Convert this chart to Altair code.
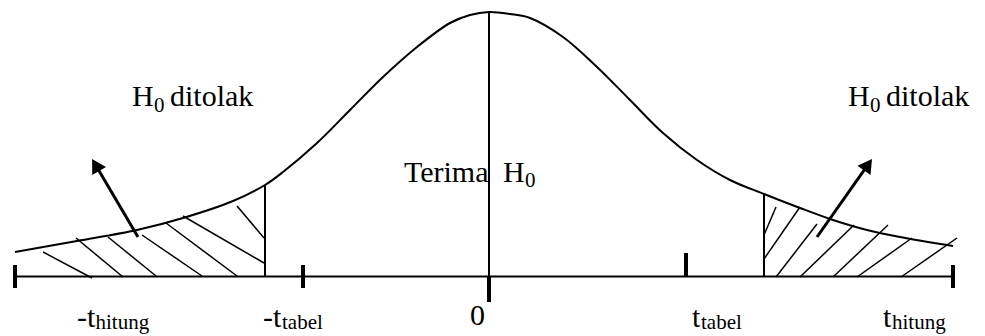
import altair as alt
import pandas as pd

# ---- curve (x in t-units, y = density height) ----
curve_x = [-4.74, -4.12, -3.52, -3.06, -2.56, -2.24, -2.06, -1.72, -1.39, -1.06,
           -0.72, -0.39, -0.19, 0.0, 0.21, 0.41, 0.74, 1.08, 1.41, 1.74,
           2.08, 2.41, 2.75, 3.11, 3.44, 3.78, 4.11, 4.64]
curve_y = [0.245, 0.355, 0.465, 0.585, 0.755, 0.915, 1.045, 1.335, 1.665, 1.995,
           2.295, 2.535, 2.615, 2.645, 2.625, 2.585, 2.395, 2.095, 1.765, 1.435,
           1.165, 0.965, 0.825, 0.685, 0.565, 0.465, 0.395, 0.305]

# critical values on the axis
t_hitung_left = -4.74
t_tabel_left = -1.86
t_zero = 0.0
t_tabel_right = 1.97
t_hitung_right = 4.64

# boundaries of the shaded regions
bound_x = [-2.24, 0.0, 2.75]
bound_top = [0.915, 2.645, 0.825]

# hatch segments (x, y, x2, y2)
hatch_x = [-4.46, -4.13, -3.81, -3.47, -3.23, -3.06, -2.52,
           2.75, 2.75, 2.87, 3.11, 3.44, 3.68, 4.12]
hatch_y = [0.245, 0.385, 0.395, 0.415, 0.535, 0.605, 0.705,
           0.415, 0.175, -0.005, -0.005, -0.005, -0.005, -0.005]
hatch_x2 = [-3.97, -3.66, -3.33, -2.87, -2.52, -2.25, -2.25,
            2.87, 3.11, 3.28, 3.65, 3.99, 4.23, 4.68]
hatch_y2 = [-0.015, -0.005, 0.005, 0.005, 0.005, 0.135, 0.385,
            0.695, 0.695, 0.525, 0.515, 0.515, 0.385, 0.385]

# arrows: shaft start, head centre, head angle
arrow_x = [-3.51, 3.28]
arrow_y = [0.395, 0.395]
arrow_hx = [-3.934, 3.79]
arrow_hy = [1.115, 1.118]
arrow_angle = [329.5, 35.2]

# ticks on the axis (x, y, y2)
tick_x = [t_hitung_left, t_tabel_left, t_zero, t_tabel_right, t_hitung_right]
tick_y = [0.115, 0.115, 0.0, 0.235, 0.115]
tick_y2 = [-0.115, -0.115, -0.255, 0.0, -0.115]

# texts: main (large) and subscript (small)
main_text = ["H", "ditolak", "H", "ditolak", "Terima", "H", "0", "-t", "-t", "t", "t"]
main_x = [-3.57, -3.19, 3.59, 3.97, -0.85, 0.14, -0.19, -4.12, -2.26, 2.03, 3.94]
main_y = [1.705, 1.705, 1.705, 1.705, 0.945, 0.945, -0.485, -0.505, -0.505, -0.505, -0.505]
sub_text = ["0", "0", "0", "hitung", "tabel", "tabel", "hitung"]
sub_x = [-3.35, 3.81, 0.36, -3.935, -2.07, 2.12, 4.03]
sub_y = [1.645, 1.645, 0.895, -0.525, -0.525, -0.525, -0.525]

xs = alt.Scale(domain=[-4.81, 4.88], nice=False, zero=False)
ys = alt.Scale(domain=[-0.595, 2.685], nice=False, zero=False)

def X(f="x"):
    return alt.X(f, type="quantitative", scale=xs, axis=None)

def Y(f="y"):
    return alt.Y(f, type="quantitative", scale=ys, axis=None)

curve = alt.Chart(pd.DataFrame({"x": curve_x, "y": curve_y})).mark_line(
    color="black", strokeWidth=2, interpolate="catmull-rom"
).encode(x=X(), y=Y())

axis_df = pd.DataFrame({"x": [t_hitung_left], "x2": [t_hitung_right], "y": [0.0]})
axis_line = alt.Chart(axis_df).mark_rule(color="black", strokeWidth=2).encode(
    x=X(), x2="x2", y=Y()
)

bound_df = pd.DataFrame({"x": bound_x, "y": [0.0] * 3, "y2": bound_top})
bounds = alt.Chart(bound_df).mark_rule(color="black", strokeWidth=2).encode(
    x=X(), y=Y(), y2="y2"
)

hatch_df = pd.DataFrame({"x": hatch_x, "y": hatch_y, "x2": hatch_x2, "y2": hatch_y2})
hatch = alt.Chart(hatch_df).mark_rule(color="black", strokeWidth=1.5).encode(
    x=X(), y=Y(), x2="x2", y2="y2"
)

arrow_df = pd.DataFrame({"x": arrow_x, "y": arrow_y, "x2": arrow_hx, "y2": arrow_hy,
                         "angle": arrow_angle})
shafts = alt.Chart(arrow_df).mark_rule(color="black", strokeWidth=3).encode(
    x=X(), y=Y(), x2="x2", y2="y2"
)
heads = alt.Chart(arrow_df).mark_point(
    shape="triangle-up", filled=True, color="black", opacity=1, size=256
).encode(x=X("x2"), y=Y("y2"), angle=alt.Angle("angle:Q", scale=None))

tick_df = pd.DataFrame({"x": tick_x, "y": tick_y, "y2": tick_y2})
ticks = alt.Chart(tick_df).mark_rule(color="black", strokeWidth=4).encode(
    x=X(), y=Y(), y2="y2"
)

main_df = pd.DataFrame({"x": main_x, "y": main_y, "t": main_text})
main_labels = alt.Chart(main_df).mark_text(
    font="Liberation Serif", fontSize=30, align="left", baseline="alphabetic", color="black"
).encode(x=X(), y=Y(), text="t:N")

sub_df = pd.DataFrame({"x": sub_x, "y": sub_y, "t": sub_text})
sub_labels = alt.Chart(sub_df).mark_text(
    font="Liberation Serif", fontSize=21, align="left", baseline="alphabetic", color="black"
).encode(x=X(), y=Y(), text="t:N")

chart = alt.layer(
    hatch, curve, axis_line, bounds, shafts, heads, ticks, main_labels, sub_labels
).properties(
    width=969, height=328, autosize=alt.AutoSizeParams(type="none"), padding=0,
    background="white"
).configure_view(stroke=None)

chart.save("out.html", embed_options={"renderer": "svg", "actions": False})
